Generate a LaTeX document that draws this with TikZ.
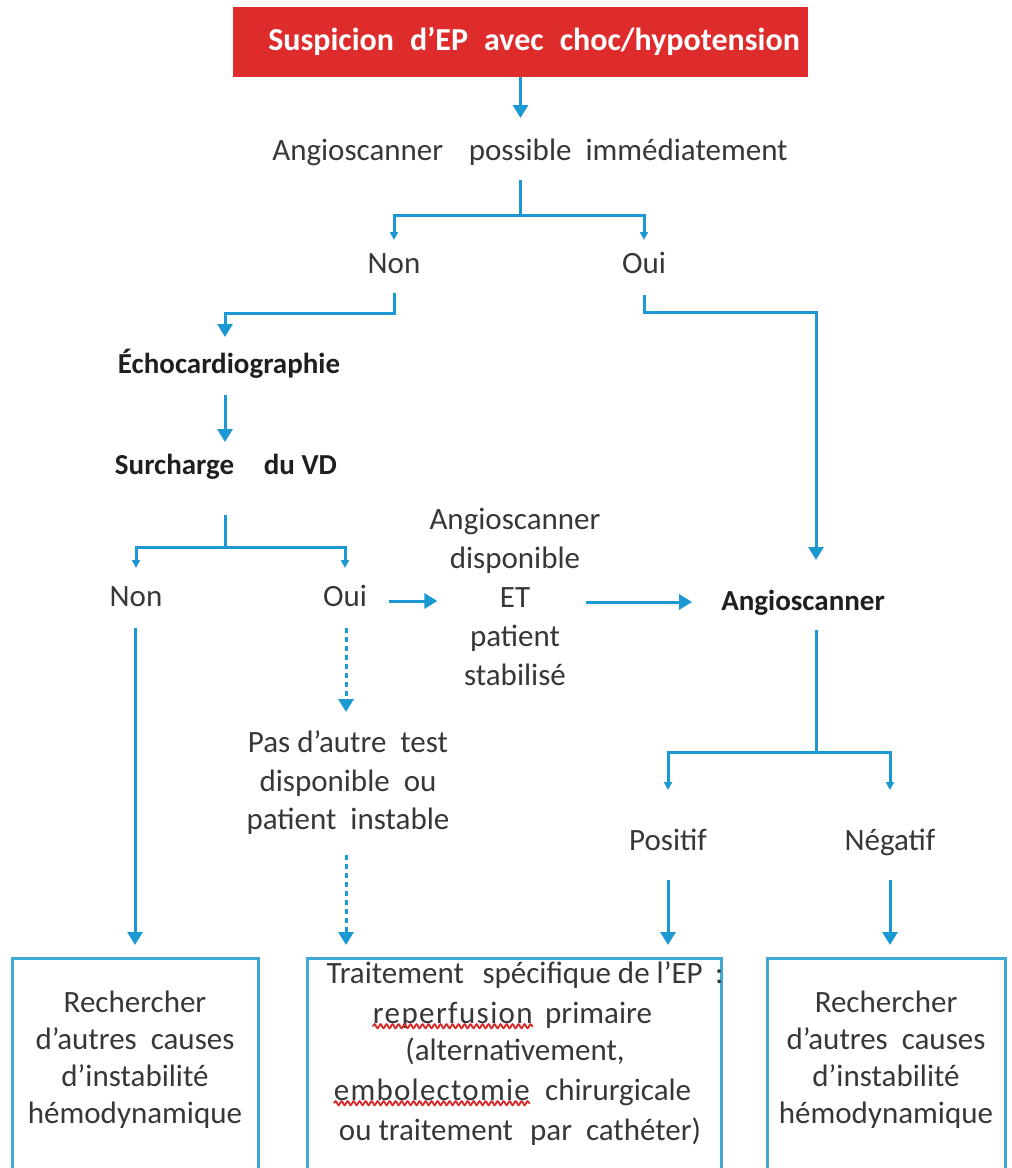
\documentclass[tikz,border=0pt]{standalone}
\usepackage{fontspec}
\setmainfont{Carlito}
\usetikzlibrary{arrows.meta,calc,decorations.pathmorphing}
\definecolor{flow}{RGB}{28,152,210}
\definecolor{frame}{RGB}{64,168,212}
\definecolor{alert}{RGB}{222,44,44}
\definecolor{ink}{RGB}{55,55,55}
\definecolor{spell}{RGB}{215,40,40}
\newcommand\wsp{\hspace{0.45em}}
\begin{document}
\begin{tikzpicture}[x=1pt,y=-1pt,
  lbl/.style={font=\fontsize{31}{39}\selectfont, text=ink, inner sep=0pt, text height=22pt, text depth=6pt},
  blk/.style={font=\fontsize{31}{39}\selectfont, text=ink, inner sep=0pt, align=center},
  hd/.style={lbl, font=\fontsize{29}{36}\selectfont\bfseries, text=black!88},
  link/.style={draw=flow, line width=3pt},
  arr/.style={link, -{Triangle[length=13pt,width=15pt]}},
  arrsm/.style={link, -{Triangle[length=8pt,width=8pt]}},
  dotarr/.style={arr, dash pattern=on 5pt off 4pt},
  outcome/.style={draw=frame, line width=3pt, minimum width=#1, minimum height=216pt, anchor=north, inner sep=0pt},
  wave/.style={draw=spell, line width=1.8pt, decorate, decoration={snake, amplitude=2pt, segment length=6pt}}
]
\useasboundingbox (0,0) rectangle (1012,1168);

% title banner
\node[fill=alert, minimum width=575pt, minimum height=70pt, inner sep=0pt] (top) at (520.5,42) {};
\node[font=\fontsize{32}{36}\selectfont\bfseries, text=white, inner sep=0pt] (toptxt) at (534,41)
  {Suspicion\hspace{0.5em}d’EP\hspace{0.5em}avec\hspace{0.5em}choc/hypotension};

% decision labels
\node[lbl] (ang1) at (530,152) {Angioscanner\hspace{0.6em} possible\wsp immédiatement};
\node[lbl] (non1) at (394,265) {Non};
\node[lbl] (oui1) at (644,265) {Oui};
\node[hd] (ech) at (229,365) {Échocardiographie};
\node[hd] (surch) at (226,466) {Surcharge\hspace{0.8em} du VD};
\node[lbl] (non2) at (136,598) {Non};
\node[lbl] (oui2) at (345,598) {Oui};
\node[blk] (etbox) at (515,597) {Angioscanner\\disponible\\ET\\patient\\stabilisé};
\node[hd] (angio) at (803,602) {Angioscanner};
\node[blk, font=\fontsize{31}{38.5}\selectfont] (pas) at (348,783)
  {Pas d’autre\wsp test\\disponible\wsp ou\\patient\wsp instable};
\node[lbl] (pos) at (668,842) {Positif};
\node[lbl] (neg) at (890,842) {Négatif};

% outcome frames
\node[outcome=246pt] (lbox) at (135,957) {};
\node[outcome=414pt] (midbox) at (514,957) {};
\node[outcome=238pt] (rbox) at (886,957) {};

\node[blk, font=\fontsize{31}{37}\selectfont] (ltext) at (135,1060)
  {Rechercher\\d’autres\wsp causes\\d’instabilité\\hémodynamique};
\node[blk, font=\fontsize{31}{37}\selectfont] (rtext) at (886,1060)
  {Rechercher\\d’autres\wsp causes\\d’instabilité\\hémodynamique};

\node[lbl] (m1) at (525,975) {Traitement\hspace{0.6em}spécifique de l’EP\hspace{0.4em}:};
\node[lbl, anchor=east, font=\fontsize{31}{39}\selectfont\addfontfeature{LetterSpace=4.5}] (m2a) at (533,1015) {reperfusion};
\node[lbl, anchor=west] (m2b) at (545,1015) {primaire};
\node[lbl] (m3) at (515,1052) {(alternativement,};
\node[lbl, anchor=east, font=\fontsize{31}{39}\selectfont\addfontfeature{LetterSpace=4}] (m4a) at (530,1092) {embolectomie};
\node[lbl, anchor=west] (m4b) at (545,1092) {chirurgicale};
\node[lbl] (m5) at (520,1132) {ou traitement\hspace{0.55em}par\wsp cathéter)};
\draw[wave] ($(m2a.south west)+(0,-3)$) -- ($(m2a.south east)+(0,-3)$);
\draw[wave] ($(m4a.south west)+(0,-3)$) -- ($(m4a.south east)+(0,-3)$);

% branch points
\coordinate (sp1) at (520,215);
\coordinate (sp2) at (225,547);
\coordinate (sp3) at (816,752);

% connectors
\draw[arr] (top.south) -- ($(top.south |- ang1.center)+(0,-34)$);
\draw[link] ($(sp1 |- ang1.center)+(0,28)$) -- (sp1);
\draw[arrsm] (sp1) -| ($(non1.center)+(0,-25)$);
\draw[arrsm] (sp1) -| ($(oui1.center)+(0,-25)$);
\draw[arr] ($(non1.center)+(0,28)$) -- ($(non1.center)+(0,48)$) -| ($(sp2 |- ech.center)+(0,-28)$);
\draw[arr] ($(oui1.center)+(0,30)$) -- ($(oui1.center)+(0,47)$) -| ($(sp3 |- angio.center)+(0,-42)$);
\draw[arr] ($(sp2 |- ech.center)+(0,30)$) -- ($(sp2 |- surch.center)+(0,-24)$);
\draw[link] ($(sp2 |- surch.center)+(0,49)$) -- (sp2);
\draw[arrsm] (sp2) -| ($(non2.center)+(0,-30)$);
\draw[arrsm] (sp2) -| ($(oui2.center)+(0,-30)$);
\draw[arr] ($(oui2.east)+(22,3)$) -- ($(etbox.west |- oui2.center)+(8,3)$);
\draw[arr] ($(etbox.east |- angio.center)+(-15,0)$) -- ($(angio.west)+(-29,0)$);
\draw[link] ($(sp3 |- angio.center)+(0,28)$) -- (sp3);
\draw[arrsm] (sp3) -| ($(pos.center)+(0,-52)$);
\draw[arrsm] (sp3) -| ($(neg.center)+(0,-52)$);
\draw[arr] ($(pos.center)+(0,38)$) -- ($(pos.center |- midbox.north)+(0,-12)$);
\draw[arr] ($(neg.center)+(0,38)$) -- ($(neg.center |- rbox.north)+(0,-12)$);
\draw[arr] ($(non2.center)+(-1,30)$) -- ($(non2.center |- lbox.north)+(-1,-12)$);
\draw[dotarr] ($(oui2.center)+(1,30)$) -- ($(oui2.center |- pas.center)+(1,-71)$);
\draw[dotarr] ($(oui2.center |- pas.center)+(1,72)$) -- ($(oui2.center |- midbox.north)+(1,-12)$);
\end{tikzpicture}
\end{document}
